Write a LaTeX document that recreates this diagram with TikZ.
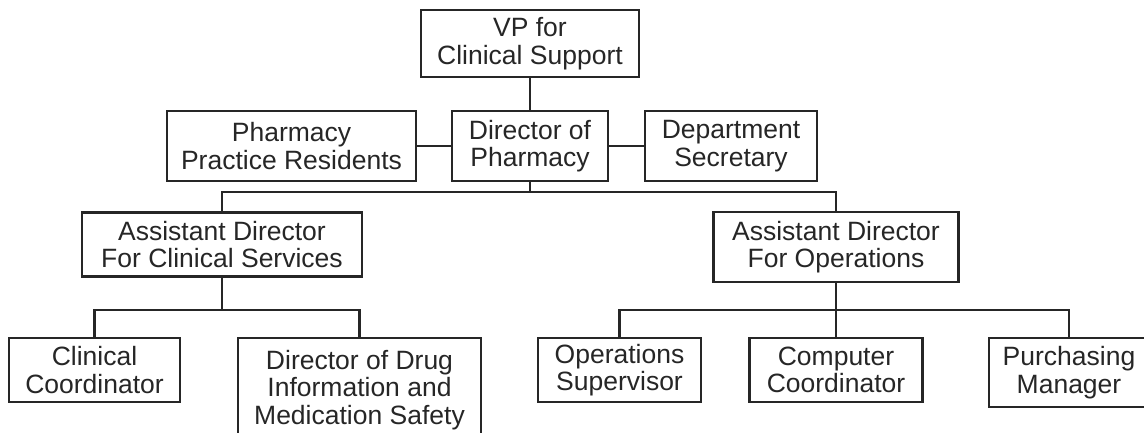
\documentclass[tikz,border=0pt]{standalone}
\usepackage{fontspec}
\setmainfont{Liberation Sans}
\begin{document}
\begin{tikzpicture}[x=1pt,y=-1pt,
  orgbox/.style={draw=black!85, line width=2.5pt, rectangle, inner sep=0pt, align=center,
    font=\fontsize{26.5}{27.5}\selectfont, text=black!85},
  link/.style={draw=black!85, line width=2.5pt}]
\useasboundingbox (0,0) rectangle (1144,432);
\node[orgbox, minimum width=218, minimum height=67] (vp) at (530,43.5) {VP for\\Clinical Support};
\node[orgbox, minimum width=249, minimum height=70] (ppr) at (291.5,146) {Pharmacy\\Practice Residents};
\node[orgbox, minimum width=156, minimum height=70] (dir) at (530,146) {Director of\\Pharmacy};
\node[orgbox, minimum width=172, minimum height=70] (ds) at (731,146) {Department\\Secretary};
\node[orgbox, minimum width=280, minimum height=64] (adcs) at (222,244.5) {Assistant Director\\For Clinical Services};
\node[orgbox, minimum width=245, minimum height=70] (adops) at (836,247) {Assistant Director\\For Operations};
\node[orgbox, minimum width=171, minimum height=64] (cc) at (94.5,370) {Clinical\\Coordinator};
\node[orgbox, minimum width=243, minimum height=104] (di) at (359.5,390) {Director of Drug\\Information and\\Medication Safety};
\node[orgbox, minimum width=163, minimum height=64] (os) at (619.5,370) {Operations\\Supervisor};
\node[orgbox, minimum width=173, minimum height=64] (comp) at (836,370) {Computer\\Coordinator};
\node[orgbox, minimum width=160, minimum height=69] (pm) at (1069,372.5) {Purchasing\\Manager};
\coordinate (b1) at (530,192);
\coordinate (b2) at (222,310);
\coordinate (b3) at (836,310);
\draw[link] (vp.south) -- (dir.north);
\draw[link] (ppr.east) -- (dir.west);
\draw[link] (dir.east) -- (ds.west);
\draw[link] (dir.south) -- (b1);
\draw[link] (adcs.north) |- (b1) -| (adops.north);
\draw[link] (adcs.south) -- (b2);
\draw[link] (cc.north) |- (b2) -| (di.north);
\draw[link] (adops.south) -- (b3);
\draw[link] (os.north) |- (b3) -| (pm.north);
\draw[link] (b3) -- (comp.north);
\end{tikzpicture}
\end{document}
